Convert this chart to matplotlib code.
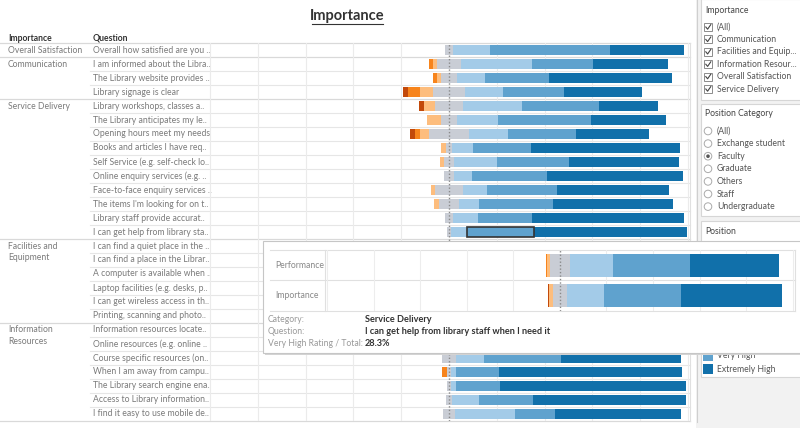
import matplotlib.pyplot as plt
from matplotlib.patches import Rectangle, Circle

plt.rcParams['font.family'] = ['Lato', 'DejaVu Sans']

# ---- data -------------------------------------------------------------
groups = ["Overall Satisfaction", "Communication", "Service Delivery",
          "Facilities and\nEquipment", "Information\nResources"]
group_sizes = [1, 3, 10, 6, 7]

questions = [
    "Overall how satisfied are you ..",
    "I am informed about the Libra..",
    "The Library website provides ..",
    "Library signage is clear",
    "Library workshops, classes a..",
    "The Library anticipates my le..",
    "Opening hours meet my needs",
    "Books and articles I have req..",
    "Self Service (e.g. self-check lo..",
    "Online enquiry services (e.g. ..",
    "Face-to-face enquiry services ..",
    "The items I'm looking for on t..",
    "Library staff provide accurat..",
    "I can get help from library sta..",
    "I can find a quiet place in the ..",
    "I can find a place in the Librar..",
    "A computer is available when ..",
    "Laptop facilities (e.g. desks, p..",
    "I can get wireless access in th..",
    "Printing, scanning and photo..",
    "Information resources locate..",
    "Online resources (e.g. online ..",
    "Course specific resources (on..",
    "When I am away from campu..",
    "The Library search engine ena..",
    "Access to Library information..",
    "I find it easy to use mobile de..",
]

# percent of answers per rating level (rows hidden under the tooltip = None)
H8 = [None] * 8
ext_low = [0, 0, 0, 2.1, 2.1, 0, 2.0, 0, 0, 0, 0, 0, 0, 0] + H8 + [0, 0, 0, 0, 0]
very_low = [0, 1.4, 1.7, 4.9, 0, 0, 2.2, 0, 0, 0, 0, 0, 0, 0] + H8 + [0, 2.1, 0, 0, 0]
low = [0, 1.7, 1.5, 5.3, 4.6, 5.6, 3.9, 2.3, 1.7, 0, 1.9, 2.2, 0, 0] + H8 + [0, 0, 0, 0, 0]
neutral = [3.3, 10.2, 6.8, 13.8, 11.6, 7.1, 16.6, 2.1, 4.2, 4.1, 11.6, 8.2, 3.5, 1.3] + H8 + [6.0, 1.4, 1.4, 2.1, 5.4]
high = [15.5, 29.8, 11.6, 15.5, 24.8, 16.9, 16.3, 8.9, 17.9, 7.7, 9.9, 8.4, 10.5, 6.7] + H8 + [11.5, 2.1, 2.1, 11.4, 24.8]
very_high = [50.2, 25.3, 26.8, 25.6, 32.0, 38.8, 28.5, 24.3, 30.3, 31.4, 29.3, 31.1, 22.3, 28.3] + H8 + [32.4, 18.2, 18.7, 22.6, 16.9]
ext_high = [31.0, 31.5, 51.5, 32.9, 24.8, 31.5, 30.4, 62.3, 45.7, 56.9, 47.1, 50.2, 63.7, 63.7] + H8 + [50.2, 76.4, 77.8, 63.9, 52.7]

rating_levels = ["Extremely Low", "Very Low", "Low", "Neutral", "High", "Very High", "Extremely High"]
colors = ['#c2490a', '#f7841c', '#fdbd7d', '#c9cdd5', '#a3cbe8', '#5fa2ce', '#1170aa']
highlight_row = 13

# tooltip
tip_rows = ["Performance", "Importance"]
tip_ext_low = [0, 0.5]
tip_very_low = [0.5, 0]
tip_low = [1.3, 1.5]
tip_neutral = [8.6, 6.2]
tip_high = [18.5, 16.0]
tip_very_high = [33.2, 32.9]
tip_ext_high = [38.2, 43.3]
tip_fields = ["Category:", "Question:", "Very High Rating / Total:"]
tip_values = ["Service Delivery", "I can get help from library staff when I need it", "28.3%"]

filter_items = ["(All)", "Communication", "Facilities and Equip...", "Information Resour...",
                "Overall Satisfaction", "Service Delivery"]
position_items = ["(All)", "Exchange student", "Faculty", "Graduate", "Others", "Staff", "Undergraduate"]
position_selected = "Faculty"

# ---- layout helpers (pixel coordinates) ------------------------------
W, H = 800, 428
FS = 6.2
GREY = '#7a7a7a'


def box(x0, y0, x1, y1):
    return [x0 / W, 1 - y1 / H, (x1 - x0) / W, (y1 - y0) / H]


def pixel_axes(z):
    a = fig.add_axes([0, 0, 1, 1], zorder=z)
    a.set_xlim(0, W)
    a.set_ylim(H, 0)
    a.axis('off')
    a.patch.set_alpha(0)
    return a


def stacked(axis, y, vals, hl=None, height=0.75):
    left = -(vals[0] + vals[1] + vals[2] + vals[3] / 2)
    for k, v in enumerate(vals):
        if v > 0:
            if k == hl:
                axis.barh(y, v, left=left, height=height, color=colors[k],
                          edgecolor='#333333', linewidth=1.2, zorder=3)
            else:
                axis.barh(y, v, left=left, height=height, color=colors[k], zorder=2)
        left += v


fig = plt.figure(figsize=(8, 4.28), dpi=100)
bg = pixel_axes(0)

# title
bg.text(347, 16, "Importance", ha='center', va='center', fontsize=10.5,
        fontweight='bold', color='#333333')
bg.plot([312, 383], [24, 24], color='#333333', lw=0.8)

# headers
bg.text(8, 38, "Importance", va='center', fontsize=FS, fontweight='bold', color='#333333')
bg.text(93, 38, "Question", va='center', fontsize=FS, fontweight='bold', color='#333333')

# row lines and labels
starts = [sum(group_sizes[:g]) for g in range(len(groups))]
n = len(questions)
for k in range(n + 1):
    y = 43 + 14 * k
    if k in starts or k == n:
        bg.plot([0, 690], [y, y], color='#d9d9d9', lw=0.9)
    else:
        bg.plot([90, 690], [y, y], color='#e6e6e6', lw=0.8)
for i, q in enumerate(questions):
    bg.text(93, 50 + 14 * i, q, va='center', fontsize=FS, color=GREY)
for g, name in enumerate(groups):
    for j, line in enumerate(name.split("\n")):
        bg.text(8, 50 + 14 * starts[g] + 12 * j, line, va='center', fontsize=FS, color=GREY)
bg.plot([690, 690], [43, 421], color='#e0e0e0', lw=0.8)

# main diverging bars
ax = fig.add_axes(box(208, 43, 690, 421), zorder=1)
ax.set_xlim(-100.8, 100.8)
ax.set_ylim(n - 0.5, -0.5)
ax.axis('off')
for gx in range(-100, 101, 20):
    if gx != 0:
        ax.axvline(gx, color='#ebebeb', lw=0.8, zorder=0)
levels = [ext_low, very_low, low, neutral, high, very_high, ext_high]
for i in range(n):
    if neutral[i] is None:
        continue
    stacked(ax, i, [lv[i] for lv in levels], hl=5 if i == highlight_row else None)
ax.axvline(0, color='#8a8a8a', lw=1, ls=(0, (1, 1.5)), zorder=5)

# right panel
bg.add_patch(Rectangle((696, 0), 104, H, facecolor='#f2f2f2', edgecolor='none'))
bg.plot([696.5, 696.5], [0, 422], color='#cfcfcf', lw=0.8)
for y0, y1 in [(-1, 100), (104, 216), (221, 377)]:
    bg.add_patch(Rectangle((701, y0), 101, y1 - y0, facecolor='white', edgecolor='#d6d6d6', lw=0.8))
bg.text(705, 10, "Importance", va='center', fontsize=FS, color='#444444')
bg.text(705, 113, "Position Category", va='center', fontsize=FS, color='#444444')
bg.text(705, 231, "Position", va='center', fontsize=FS, color='#444444')
for j, item in enumerate(filter_items):
    y = 27 + 12.4 * j
    bg.add_patch(Rectangle((704, y - 4), 8, 8, facecolor='white', edgecolor='#8c8c8c', lw=0.7))
    bg.plot([705.8, 707.6, 710.8], [y, y + 2.2, y - 2.4], color='#444444', lw=0.8)
    bg.text(717, y, item, va='center', fontsize=FS, color='#555555')
for j, item in enumerate(position_items):
    y = 131 + 12.6 * j
    bg.add_patch(Circle((708, y), 3.8, facecolor='white', edgecolor='#aaaaaa', lw=0.7))
    if item == position_selected:
        bg.add_patch(Circle((708, y), 1.8, facecolor='#555555', edgecolor='none'))
    bg.text(717, y, item, va='center', fontsize=FS, color='#555555')
for k, name in enumerate(rating_levels):
    y = 369 - 13.5 * (len(rating_levels) - 1 - k)
    if y < 340:
        continue
    bg.add_patch(Rectangle((703, y - 5), 10, 10, facecolor=colors[k], edgecolor='none'))
    bg.text(717, y, name, va='center', fontsize=FS, color='#555555')

# tooltip
tip = pixel_axes(2)
tip.add_patch(Rectangle((265, 243), 540, 112, facecolor='#d4d4d4', edgecolor='none'))
tip.add_patch(Rectangle((263, 241), 540, 112, facecolor='white', edgecolor='#c6c6c6', lw=0.8))
for y in [250, 279.5, 311]:
    tip.plot([270, 795], [y, y], color='#e0e0e0', lw=0.8)
tip.plot([324.8, 324.8], [250, 311], color='#e0e0e0', lw=0.8)
tip.plot([795, 795], [250, 311], color='#e0e0e0', lw=0.8)
tip.text(275, 265, tip_rows[0], va='center', fontsize=FS, color='#888888')
tip.text(275, 295.5, tip_rows[1], va='center', fontsize=FS, color='#888888')
for j, (f, v) in enumerate(zip(tip_fields, tip_values)):
    y = 319 + 12 * j
    tip.text(268, y, f, va='center', fontsize=FS, color='#999999')
    tip.text(365, y, v, va='center', fontsize=6.6, fontweight='bold', color='#333333')

mini = fig.add_axes(box(324.8, 250, 795, 311), zorder=3)
mini.set_xlim(-101, 101)
mini.set_ylim(1.5, -0.5)
mini.axis('off')
for gx in range(-100, 101, 20):
    if gx != 0:
        mini.axvline(gx, color='#ededed', lw=0.8, zorder=0)
tip_levels = [tip_ext_low, tip_very_low, tip_low, tip_neutral, tip_high, tip_very_high, tip_ext_high]
for r in range(len(tip_rows)):
    stacked(mini, r, [lv[r] for lv in tip_levels], height=0.76)
mini.axvline(0, color='#8a8a8a', lw=1, ls=(0, (1, 1.5)), zorder=5)

fig.savefig("out.png", dpi=100)
